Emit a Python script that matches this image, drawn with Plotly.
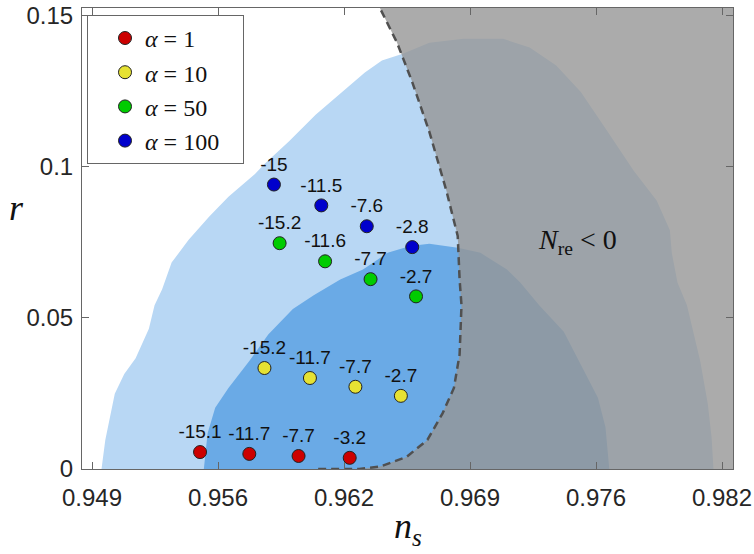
import plotly.graph_objects as go

# ---------------- data ----------------
legend_names = ["<i>α</i> = 1&nbsp;&nbsp;&nbsp;", "<i>α</i> = 10&nbsp;&nbsp;&nbsp;",
                "<i>α</i> = 50&nbsp;&nbsp;&nbsp;", "<i>α</i> = 100&nbsp;&nbsp;&nbsp;"]
marker_colors = ["#cc0000", "#e6e233", "#00cc00", "#0000cc"]

ns_a1 = [0.9547, 0.9573, 0.9599, 0.9626]
r_a1 = [0.0056, 0.0050, 0.0043, 0.0037]
lbl_a1 = ["-15.1", "-11.7", "-7.7", "-3.2"]

ns_a10 = [0.9581, 0.9605, 0.9629, 0.9653]
r_a10 = [0.0334, 0.0301, 0.0272, 0.0242]
lbl_a10 = ["-15.2", "-11.7", "-7.7", "-2.7"]

ns_a50 = [0.9589, 0.9613, 0.9637, 0.9661]
r_a50 = [0.0747, 0.0687, 0.0628, 0.0571]
lbl_a50 = ["-15.2", "-11.6", "-7.7", "-2.7"]

ns_a100 = [0.9586, 0.9611, 0.9635, 0.9659]
r_a100 = [0.0941, 0.0872, 0.0803, 0.0734]
lbl_a100 = ["-15", "-11.5", "-7.6", "-2.8"]

# outer (2-sigma) contour
outer_ns = [0.9495, 0.9497, 0.9502, 0.9507, 0.9513, 0.9520, 0.9523, 0.9527, 0.9532, 0.9541,
            0.9552, 0.9562, 0.9576, 0.9581, 0.9594, 0.9608, 0.9622, 0.9634, 0.9643, 0.9654,
            0.9668, 0.9686, 0.9707, 0.9721, 0.9735, 0.9748, 0.9762, 0.9776, 0.9788, 0.9795,
            0.9796, 0.9799, 0.9804, 0.9811, 0.9815, 0.9817, 0.9818]
outer_r = [0.0, 0.0096, 0.0249, 0.0314, 0.0366, 0.0464, 0.0542, 0.0595, 0.0683, 0.0758,
           0.0836, 0.0901, 0.0976, 0.1009, 0.1084, 0.1172, 0.1247, 0.1312, 0.1351, 0.1374,
           0.1410, 0.1423, 0.1423, 0.1394, 0.1335, 0.1247, 0.1117, 0.0986, 0.0888, 0.0790,
           0.0715, 0.0617, 0.0542, 0.0357, 0.0216, 0.0105, 0.0]

# inner (1-sigma) contour
inner_ns = [0.9549, 0.9551, 0.9555, 0.9562, 0.9573, 0.9583, 0.9596, 0.9607, 0.9621, 0.9633,
            0.9646, 0.9658, 0.9668, 0.9683, 0.9695, 0.9709, 0.9716, 0.9726, 0.9739, 0.9748,
            0.9757, 0.9761, 0.9762, 0.9763]
inner_r = [0.0, 0.0118, 0.0203, 0.0268, 0.0357, 0.0445, 0.0529, 0.0575, 0.0627, 0.0660,
           0.0715, 0.0738, 0.0745, 0.0732, 0.0715, 0.0660, 0.0617, 0.0542, 0.0454, 0.0347,
           0.0236, 0.0138, 0.0063, 0.0]

# N_re = 0 boundary
nre_ns = [0.9640, 0.9642, 0.9651, 0.9659, 0.9668, 0.9677, 0.9683, 0.9684, 0.9685, 0.9684,
          0.9681, 0.9675, 0.9667, 0.9656, 0.9642, 0.9631, 0.9607]
nre_r = [0.1557, 0.1524, 0.1410, 0.1280, 0.1116, 0.0921, 0.0771, 0.0627, 0.0542, 0.0379,
         0.0268, 0.0184, 0.0096, 0.0040, 0.0008, 0.0, 0.0]

x_tickvals = [0.949, 0.95565, 0.9623, 0.96895, 0.9756, 0.98225]
x_ticktext = ["0.949", "0.956", "0.962", "0.969", "0.976", "0.982"]
y_tickvals = [0, 0.05, 0.1, 0.15]
y_ticktext = ["0", "0.05", "0.1", "0.15"]

x_range = [0.94847, 0.98283]
y_range = [0.0, 0.1525]

# ---------------- figure ----------------
fig = go.Figure()

fig.add_trace(go.Scatter(x=outer_ns, y=outer_r, fill="toself", mode="lines",
                         line=dict(width=0), fillcolor="#b8d7f4",
                         showlegend=False, hoverinfo="skip"))
fig.add_trace(go.Scatter(x=inner_ns, y=inner_r, fill="toself", mode="lines",
                         line=dict(width=0), fillcolor="#6aaae6",
                         showlegend=False, hoverinfo="skip"))

gray_x = nre_ns + [x_range[1] + 0.002, x_range[1] + 0.002]
gray_y = nre_r + [0.0, y_range[1] + 0.005]
fig.add_trace(go.Scatter(x=gray_x, y=gray_y, fill="toself", mode="lines",
                         line=dict(width=0), fillcolor="rgba(150,150,150,0.8)",
                         showlegend=False, hoverinfo="skip"))
fig.add_trace(go.Scatter(x=nre_ns, y=nre_r, mode="lines",
                         line=dict(color="#505050", width=2.5, dash="8px,5px"),
                         showlegend=False, hoverinfo="skip"))

sets = [(ns_a1, r_a1, lbl_a1), (ns_a10, r_a10, lbl_a10),
        (ns_a50, r_a50, lbl_a50), (ns_a100, r_a100, lbl_a100)]
for i, (xs, ys, ls) in enumerate(sets):
    fig.add_trace(go.Scatter(
        x=xs, y=ys, mode="markers+text", text=ls, textposition="top center",
        textfont=dict(family="Liberation Sans", size=19, color="#111111"),
        marker=dict(size=13, color=marker_colors[i], line=dict(color="#222222", width=1)),
        name=legend_names[i], hoverinfo="skip"))

axis_common = dict(showline=True, linecolor="#666666", linewidth=1, mirror="ticks",
                   ticks="inside", ticklen=7, tickcolor="#666666", showgrid=False,
                   zeroline=False, ticklabeloverflow="allow",
                   tickfont=dict(family="Liberation Sans", size=24, color="#262626"))

fig.update_xaxes(range=x_range, tickvals=x_tickvals, ticktext=x_ticktext,
                 ticklabelstandoff=7, **axis_common)
fig.update_yaxes(range=y_range, tickvals=y_tickvals, ticktext=y_ticktext,
                 ticklabelstandoff=3, **axis_common)

fig.add_annotation(text="<i>n<sub>s</sub></i>", xref="paper", yref="paper",
                   x=0.5, y=-0.13, xanchor="center", yanchor="middle", showarrow=False,
                   font=dict(family="Liberation Serif", size=36, color="#111111"))
fig.add_annotation(text="<i>r</i>", xref="paper", yref="paper",
                   x=-0.1, y=0.566, xanchor="center", yanchor="middle", showarrow=False,
                   font=dict(family="Liberation Serif", size=36, color="#111111"))
fig.add_annotation(text="<i>N</i><sub>re</sub> &lt; 0", x=0.9746, y=0.0754,
                   xanchor="center", yanchor="middle", showarrow=False,
                   font=dict(family="Liberation Serif", size=28, color="#111111"))

fig.update_layout(
    width=754, height=554,
    margin=dict(l=82, r=21, t=2, b=85),
    paper_bgcolor="white", plot_bgcolor="white",
    legend=dict(x=0.0077, y=0.985, xanchor="left", yanchor="top",
                bgcolor="white", bordercolor="#666666", borderwidth=1,
                font=dict(family="Liberation Serif", size=24, color="#111111"),
                indentation=17),
)

fig.write_html("out.html", config={"displayModeBar": False},
               post_script="document.body.style.margin='0px';")
